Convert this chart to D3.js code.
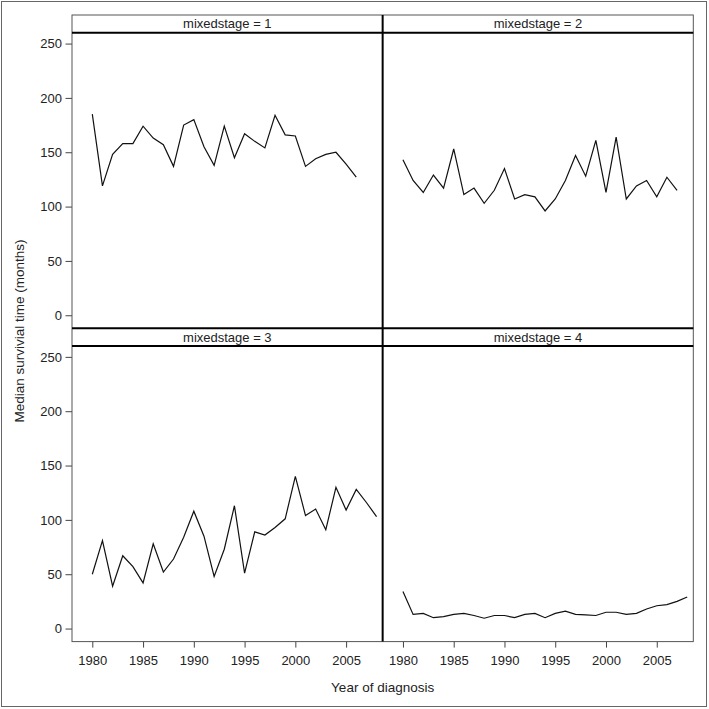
<!DOCTYPE html>
<html>
<head>
<meta charset="utf-8">
<script src="https://cdn.jsdelivr.net/npm/d3@7"></script>
<style>
  html, body { margin: 0; padding: 0; background: #fff; }
  svg text { font-family: "Liberation Sans", Arial, sans-serif; fill: #222; }
</style>
</head>
<body>
<div id="chart"></div>
<script>
// median survival by stage
const years1 = d3.range(1980, 2007);
const stage1 = [185, 119, 148, 158, 158, 174, 163, 157, 137, 175, 180, 155, 138, 174, 145, 167, 160, 154, 184, 166, 165, 137, 144, 148, 150, 139, 127];

const years2 = d3.range(1980, 2008);
const stage2 = [143, 124, 113, 129, 117, 153, 111, 117, 103, 115, 135, 107, 111, 109, 96, 107, 124, 147, 128, 161, 113, 164, 107, 119, 124, 109, 127, 115];

const years3 = d3.range(1980, 2009);
const stage3 = [50, 81, 39, 67, 57, 42, 78, 52, 64, 84, 108, 85, 48, 73, 113, 51, 89, 86, 93, 101, 140, 104, 110, 91, 130, 109, 128, 116, 103];

const years4 = d3.range(1980, 2009);
const stage4 = [34, 13, 14, 10, 11, 13, 14, 12, 9.5, 12, 12, 10, 13, 14, 10, 14, 16, 13, 12.5, 12, 15, 15, 13, 14, 18, 21, 22, 25, 29];

const panelLabels = ["mixedstage = 1", "mixedstage = 2", "mixedstage = 3", "mixedstage = 4"];
const yTicks = [0, 50, 100, 150, 200, 250];
const xTicks = [1980, 1985, 1990, 1995, 2000, 2005];

const panels = [
  { label: panelLabels[0], years: years1, values: stage1, col: 0, row: 0 },
  { label: panelLabels[1], years: years2, values: stage2, col: 1, row: 0 },
  { label: panelLabels[2], years: years3, values: stage3, col: 0, row: 1 },
  { label: panelLabels[3], years: years4, values: stage4, col: 1, row: 1 }
];

const W = 709, H = 709;
const gridLeft = 72, gridTop = 15;
const panelW = 310.65;
const headerH = 17.7;
const plotH = 295.6;
const rowH = headerH + plotH;
const fontFam = "'Liberation Sans', Arial, sans-serif";

const svg = d3.select("#chart").append("svg")
  .attr("width", W).attr("height", H);

// outer border
svg.append("rect")
  .attr("x", 1.5).attr("y", 1.5)
  .attr("width", W - 4).attr("height", H - 4)
  .attr("fill", "none").attr("stroke", "#666");

panels.forEach(p => {
  const x0 = gridLeft + p.col * panelW;
  const top = gridTop + p.row * rowH;
  const plotTop = top + headerH;
  const plotBottom = plotTop + plotH;

  const x = d3.scaleLinear().domain([1978, 2008.6]).range([x0, x0 + panelW]);
  const y = d3.scaleLinear().domain([-12, 260]).range([plotBottom, plotTop]);

  const g = svg.append("g");

  // header strip
  g.append("text")
    .attr("x", x0 + panelW / 2).attr("y", top + 13.3)
    .attr("text-anchor", "middle")
    .attr("font-size", 13)
    .text(p.label);

  // series line
  const line = d3.line()
    .x((d, i) => x(p.years[i]))
    .y(d => y(d));
  g.append("path")
    .datum(p.values)
    .attr("d", line)
    .attr("fill", "none")
    .attr("stroke", "#111")
    .attr("stroke-width", 1.2);

  if (p.col === 0) {
    const ay = g.append("g")
      .attr("transform", `translate(${gridLeft},0)`)
      .call(d3.axisLeft(y).tickValues(yTicks).tickSize(6.5).tickSizeOuter(0).tickPadding(3.5));
    ay.select(".domain").remove();
    ay.selectAll("line").attr("stroke", "#444");
    ay.selectAll("text").attr("font-size", 13).attr("fill", "#222").style("font-family", fontFam);
  }
  if (p.row === 1) {
    const ax = g.append("g")
      .attr("transform", `translate(0,${plotBottom})`)
      .call(d3.axisBottom(x).tickValues(xTicks).tickFormat(d3.format("d")).tickSize(6).tickSizeOuter(0).tickPadding(8.5));
    ax.select(".domain").remove();
    ax.selectAll("line").attr("stroke", "#444");
    ax.selectAll("text").attr("font-size", 13).attr("fill", "#222").style("font-family", fontFam);
  }
});

// grid frame
const gridRight = gridLeft + 2 * panelW;
const gridBottom = gridTop + 2 * rowH;
svg.append("rect")
  .attr("x", gridLeft).attr("y", gridTop)
  .attr("width", 2 * panelW).attr("height", 2 * rowH)
  .attr("fill", "none").attr("stroke", "#555").attr("stroke-width", 1);

// thick separators
const heavy = [
  [gridLeft, gridTop + headerH, gridRight, gridTop + headerH],
  [gridLeft, gridTop + rowH, gridRight, gridTop + rowH],
  [gridLeft, gridTop + rowH + headerH, gridRight, gridTop + rowH + headerH],
  [gridLeft + panelW, gridTop, gridLeft + panelW, gridBottom]
];
svg.selectAll("line.heavy").data(heavy).enter().append("line")
  .attr("class", "heavy")
  .attr("x1", d => d[0]).attr("y1", d => d[1])
  .attr("x2", d => d[2]).attr("y2", d => d[3])
  .attr("stroke", "#000").attr("stroke-width", 2);

// axis titles
svg.append("text")
  .attr("x", gridLeft + panelW).attr("y", 692)
  .attr("text-anchor", "middle")
  .attr("font-size", 13.5)
  .text("Year of diagnosis");

svg.append("text")
  .attr("transform", "translate(23.5,331) rotate(-90)")
  .attr("text-anchor", "middle")
  .attr("font-size", 13.5)
  .text("Median survivial time (months)");
</script>
</body>
</html>
